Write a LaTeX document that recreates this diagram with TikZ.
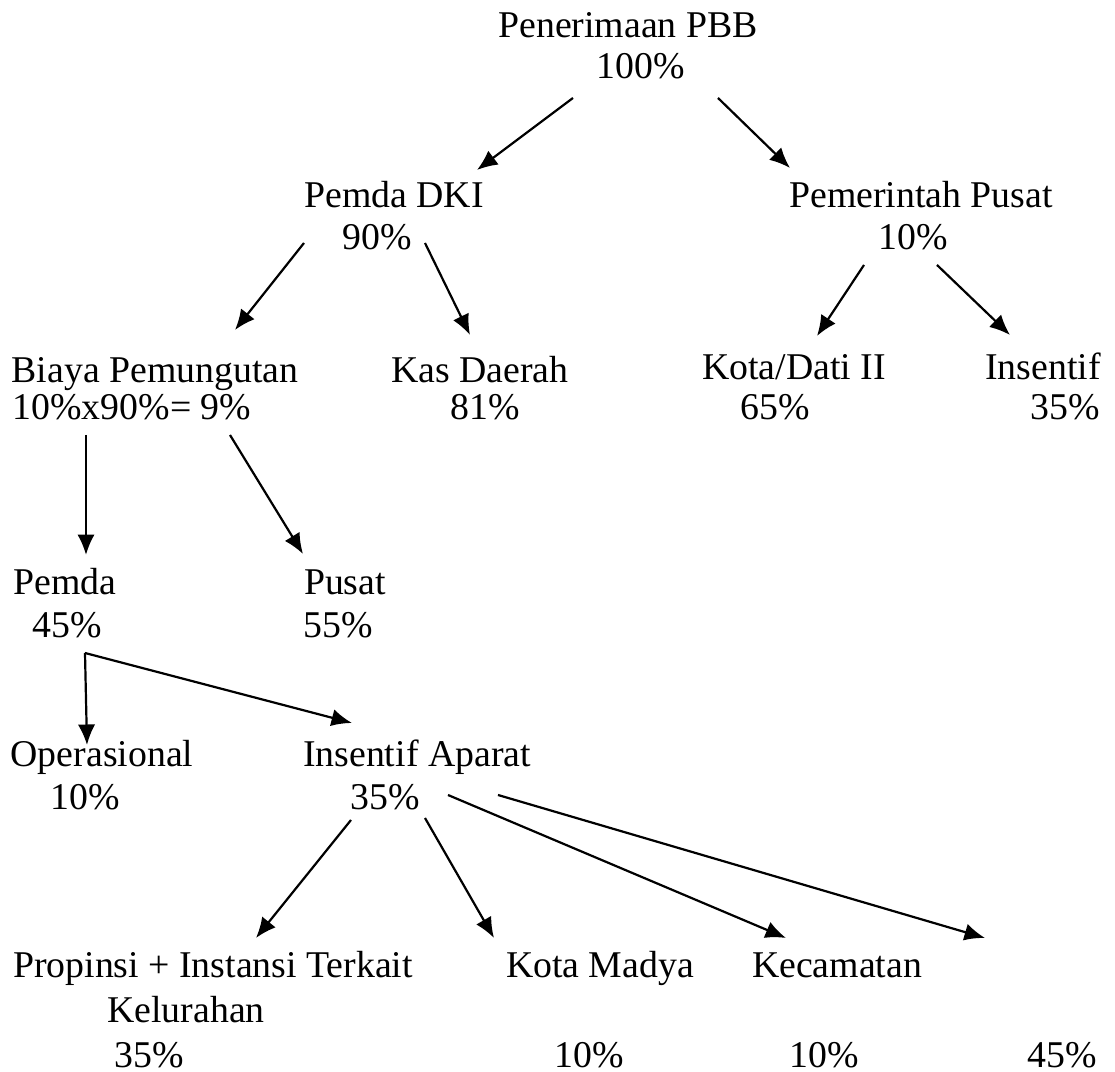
\documentclass[tikz,border=0pt]{standalone}
\usepackage{fontspec}
\setmainfont{Liberation Serif}
\usetikzlibrary{arrows.meta,calc}

\tikzstyle{txt} = [inner sep=0pt, text height=8.5pt, text depth=2.5pt, font=\fontsize{12}{13}\selectfont]
\tikzstyle{arrow} = [line width=0.7pt, -{Latex[length=6.5pt,width=5.5pt]}]

\begin{document}
\begin{tikzpicture}[x=0.3175pt,y=-0.3175pt]
\useasboundingbox (0,0) rectangle (1115,1072);

% level 0
\node (pbb) [txt] at (628,28) {Penerimaan PBB};
\node (pbbp) [txt] at (641,69) {100\%};

% level 1
\node (dki) [txt] at (394,198) {Pemda DKI};
\node (dkip) [txt] at (377,240) {90\%};
\node (pusat) [txt] at (921,198) {Pemerintah Pusat};
\node (pusatp) [txt] at (913,240) {10\%};

% level 2
\node (biaya) [txt] at (155,373) {Biaya Pemungutan};
\node (biayap) [txt] at (132,410) {10\%x90\%= 9\%};
\node (kas) [txt] at (480,373) {Kas Daerah};
\node (kasp) [txt] at (485,410) {81\%};
\node (kota) [txt] at (794,370) {Kota/Dati II};
\node (kotap) [txt] at (775,410) {65\%};
\node (ins) [txt] at (1043,370) {Insentif};
\node (insp) [txt] at (1065,410) {35\%};

% level 3
\node (pemda) [txt] at (65,585) {Pemda};
\node (pemdap) [txt] at (67,628) {45\%};
\node (pst) [txt] at (345,585) {Pusat};
\node (pstp) [txt] at (338,628) {55\%};

% level 4
\node (ops) [txt] at (102,757) {Operasional};
\node (opsp) [txt] at (85,800) {10\%};
\node (apr) [txt] at (417,757) {Insentif Aparat};
\node (aprp) [txt] at (385,800) {35\%};

% level 5
\node (prop) [txt] at (213,968) {Propinsi + Instansi Terkait};
\node (kel) [txt] at (186,1013) {Kelurahan};
\node (propp) [txt] at (149,1058) {35\%};
\node (madya) [txt] at (600,968) {Kota Madya};
\node (madyap) [txt] at (589,1058) {10\%};
\node (camat) [txt] at (837,968) {Kecamatan};
\node (camatp) [txt] at (824,1058) {10\%};
\node (lain) [txt] at (1062,1058) {45\%};
\coordinate (lainend) at (985,938);

\draw [arrow] ($(pbbp)+(-68,29)$) -- ($(dki)+(83,-28)$);
\draw [arrow] ($(pbbp)+(77,29)$) -- ($(pusat)+(-131,-30)$);
\draw [arrow] ($(dkip)+(-73,3)$) -- ($(biaya)+(80,-43)$);
\draw [arrow] ($(dkip)+(48,3)$) -- ($(kas)+(-10,-38)$);
\draw [arrow] ($(pusatp)+(-49,25)$) -- ($(kota)+(23,-34)$);
\draw [arrow] ($(pusatp)+(24,25)$) -- ($(ins)+(-33,-35)$);
\draw [arrow] ($(biayap)+(-46,25)$) -- ($(pemda)+(21,-30)$);
\draw [arrow] ($(biayap)+(98,25)$) -- ($(pst)+(-42,-31)$);
\draw [arrow] ($(pemdap)+(18,25)$) -- ($(ops)+(-15,-12)$);
\draw [arrow] ($(pemdap)+(18,25)$) -- ($(apr)+(-65,-34)$);
\draw [arrow] ($(aprp)+(-34,20)$) -- ($(prop)+(43,-30)$);
\draw [arrow] ($(aprp)+(40,18)$) -- ($(madya)+(-106,-30)$);
\draw [arrow] ($(aprp)+(63,-5)$) -- ($(camat)+(-51,-30)$);
\draw [arrow] ($(aprp)+(113,-5)$) -- (lainend);

\end{tikzpicture}
\end{document}
